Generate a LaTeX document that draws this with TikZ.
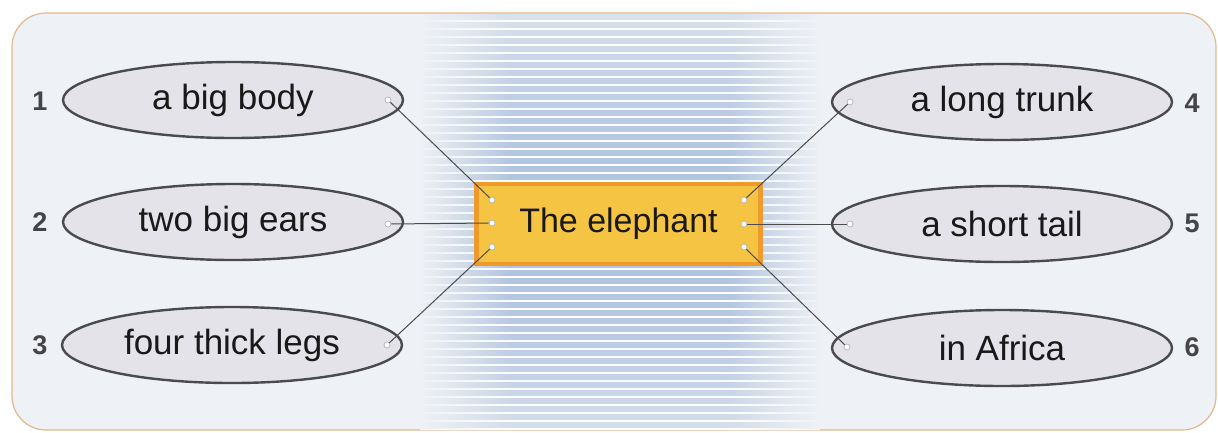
\documentclass[tikz,border=0pt]{standalone}
\usepackage{fontspec}
\setmainfont{Liberation Sans}
\usetikzlibrary{shapes.geometric}
\definecolor{bgc}{HTML}{EEF1F5}
\definecolor{framec}{HTML}{E2B98A}
\definecolor{bluec}{HTML}{AFC3DE}
\definecolor{ellfill}{HTML}{E3E3E9}
\definecolor{elldraw}{HTML}{4A4A50}
\definecolor{boxfill}{HTML}{F6C443}
\definecolor{boxdraw}{HTML}{EE9A2C}
\definecolor{numc}{HTML}{454548}
\tikzset{
  oval/.style={ellipse, draw=elldraw, line width=2.4pt, fill=ellfill, minimum width=340pt, minimum height=76pt, inner sep=0pt, font=\fontsize{35}{38}\selectfont, text=black!90},
  numlab/.style={font=\fontsize{27}{30}\selectfont\bfseries, text=numc, inner sep=0pt},
  dotnode/.style={circle, draw=gray!60, fill=white, line width=0.7pt, minimum size=6pt, inner sep=0pt},
  link/.style={draw=black!70, line width=1pt}
}
\begin{document}
\begin{tikzpicture}[x=1pt,y=-1pt]
\useasboundingbox (0,0) rectangle (1218,432);
\fill[white] (0,0) rectangle (1218,432);
% frame
\draw[framec, line width=1.2pt, fill=bgc, rounded corners=34pt] (12,13) rectangle (1216,430);
% central blue glow with stripes
\begin{scope}
\clip[rounded corners=34pt] (12,13) rectangle (1216,430);
\foreach \yy in {14,22,...,430} {
  \pgfmathsetmacro{\tt}{max(0,100-65*((\yy-224)/210)^2)}
  \colorlet{midc}{bluec!\tt!bgc}
  \shade[left color=bgc, right color=midc] (420,\yy) rectangle (510,\yy+8.2);
  \fill[midc] (509.5,\yy) rectangle (730.5,\yy+8.2);
  \shade[left color=midc, right color=bgc] (730,\yy) rectangle (820,\yy+8.2);
  \shade[left color=bgc, right color=white] (420,\yy+6.2) rectangle (510,\yy+8);
  \fill[white] (509.5,\yy+6.2) rectangle (730.5,\yy+8);
  \shade[left color=white, right color=bgc] (730,\yy+6.2) rectangle (820,\yy+8);
}
\end{scope}
% center box
\node[draw=boxdraw, line width=4.5pt, fill=boxfill, minimum width=284pt, minimum height=80pt, inner sep=0pt, font=\fontsize{34}{38}\selectfont, text=black!90] (c) at (618.5,224) {The elephant};
% ellipses
\node[oval] (e1) at (233,100) {a big body};
\node[oval] (e2) at (233,222) {two big ears};
\node[oval] (e3) at (232,345) {four thick legs};
\node[oval] (e4) at (1002,102) {a long trunk};
\node[oval] (e5) at (1002,224) {a short tail};
\node[oval] (e6) at (1002,348) {in Africa};
% numbers
\node[numlab] (n1) at (40,101) {1};
\node[numlab] (n2) at (40,222) {2};
\node[numlab] (n3) at (40,345) {3};
\node[numlab] (n4) at (1192,103) {4};
\node[numlab] (n5) at (1192,223) {5};
\node[numlab] (n6) at (1192,347) {6};
% connection dots
\node[dotnode] (d1) at (388,100) {};
\node[dotnode] (d2) at (388,224) {};
\node[dotnode] (d3) at (387,345) {};
\node[dotnode] (d4) at (850,102) {};
\node[dotnode] (d5) at (850,224) {};
\node[dotnode] (d6) at (847,347) {};
\node[dotnode] (cl1) at (492,200) {};
\node[dotnode] (cl2) at (492,223) {};
\node[dotnode] (cl3) at (492,247) {};
\node[dotnode] (cr1) at (744,200) {};
\node[dotnode] (cr2) at (744,224) {};
\node[dotnode] (cr3) at (744,247) {};
% connectors
\draw[link] (d1) -- (cl1);
\draw[link] (d2) -- (cl2);
\draw[link] (d3) -- (cl3);
\draw[link] (d4) -- (cr1);
\draw[link] (d5) -- (cr2);
\draw[link] (d6) -- (cr3);
\end{tikzpicture}
\end{document}
